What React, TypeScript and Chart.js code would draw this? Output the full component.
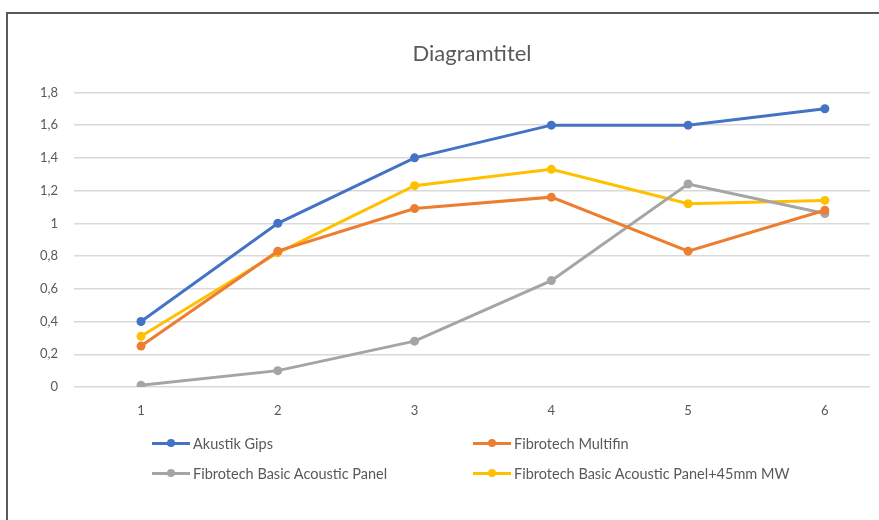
import React, { useEffect, useRef } from "react";
import { Chart, registerables } from "chart.js";

Chart.register(...registerables);

const categories = [1, 2, 3, 4, 5, 6];
const akustikGips = [0.4, 1.0, 1.4, 1.6, 1.6, 1.7];
const fibrotechMultifin = [0.25, 0.83, 1.09, 1.16, 0.83, 1.08];
const fibrotechBasic = [0.01, 0.1, 0.28, 0.65, 1.24, 1.06];
const fibrotechBasicMW = [0.31, 0.82, 1.23, 1.33, 1.12, 1.14];
const seriesNames = [
  "Akustik Gips",
  "Fibrotech Multifin",
  "Fibrotech Basic Acoustic Panel",
  "Fibrotech Basic Acoustic Panel+45mm MW",
];
const seriesColors = ["#4472C4", "#ED7D31", "#A5A5A5", "#FFC000"];
const yTicks = [0, 0.2, 0.4, 0.6, 0.8, 1, 1.2, 1.4, 1.6, 1.8];
const titleText = "Diagramtitel";

const FONT = "Lato, 'Open Sans', sans-serif";
const TEXT = "#595959";

export default function App() {
  const ref = useRef<HTMLCanvasElement | null>(null);

  useEffect(() => {
    if (!ref.current) return;
    const all = [akustikGips, fibrotechMultifin, fibrotechBasic, fibrotechBasicMW];
    const chart = new Chart(ref.current, {
      type: "line",
      data: {
        datasets: all.map((vals, i) => ({
          label: seriesNames[i],
          data: vals.map((v, j) => ({ x: categories[j], y: v })),
          borderColor: seriesColors[i],
          backgroundColor: seriesColors[i],
          borderWidth: 3,
          pointRadius: 4.5,
          pointHoverRadius: 4.5,
          pointBorderWidth: 0,
          tension: 0,
          fill: false,
        })),
      },
      options: {
        responsive: false,
        animation: false,
        devicePixelRatio: 1,
        layout: { padding: { left: 0, right: 9, top: 0, bottom: 93 } },
        plugins: {
          legend: { display: false },
          tooltip: { enabled: false },
          title: {
            display: true,
            text: titleText,
            fullSize: false,
            color: TEXT,
            font: { family: FONT, size: 22, weight: "normal" },
            padding: { top: 41, bottom: 25 },
          },
        },
        scales: {
          x: {
            type: "linear",
            min: 0.51,
            max: 6.33,
            afterBuildTicks: (s: any) => {
              s.ticks = categories.map((v) => ({ value: v }));
            },
            afterFit: (s: any) => {
              s.height = 40;
            },
            grid: { display: false },
            border: { display: false },
            ticks: {
              color: TEXT,
              font: { family: FONT, size: 13 },
              padding: 8,
              maxRotation: 0,
              callback: (v: any) => String(v),
            },
          },
          y: {
            min: 0,
            max: 1.8,
            afterBuildTicks: (s: any) => {
              s.ticks = yTicks.map((v) => ({ value: v }));
            },
            afterFit: (s: any) => {
              s.width = 74;
            },
            grid: { color: "#D9D9D9", lineWidth: 1.5, drawTicks: false },
            border: { display: false },
            ticks: {
              color: TEXT,
              font: { family: FONT, size: 13 },
              padding: 16,
              callback: (v: any) => Number(Number(v).toFixed(1)).toString().replace(".", ","),
            },
          },
        },
      },
    });
    return () => chart.destroy();
  }, []);

  const legendPos = [
    { left: 152, top: 443 },
    { left: 473, top: 443 },
    { left: 152, top: 473 },
    { left: 473, top: 473 },
  ];

  return (
    <div
      style={{
        position: "fixed",
        left: 0,
        top: 0,
        width: 879,
        height: 520,
        overflow: "hidden",
        background: "#fff",
      }}
    >
      <canvas ref={ref} width={879} height={520} style={{ position: "absolute", left: 0, top: 0, width: 879, height: 520 }} />
      <div
        style={{
          position: "absolute",
          left: 6,
          top: 12,
          width: 900,
          height: 600,
          borderTop: "2px solid #5a5a5a",
          borderLeft: "2px solid #5a5a5a",
          pointerEvents: "none",
        }}
      />
      {seriesNames.map((name, i) => (
        <div
          key={name}
          style={{
            position: "absolute",
            left: legendPos[i].left,
            top: legendPos[i].top - 10,
            height: 20,
            display: "flex",
            alignItems: "center",
            fontFamily: FONT,
            fontSize: 14.5,
            color: TEXT,
            whiteSpace: "nowrap",
          }}
        >
          <span style={{ position: "relative", width: 38, height: 3, background: seriesColors[i], marginRight: 3, display: "inline-block" }}>
            <span
              style={{
                position: "absolute",
                left: 15,
                top: -2.5,
                width: 8,
                height: 8,
                borderRadius: 4,
                background: seriesColors[i],
              }}
            />
          </span>
          {name}
        </div>
      ))}
    </div>
  );
}
